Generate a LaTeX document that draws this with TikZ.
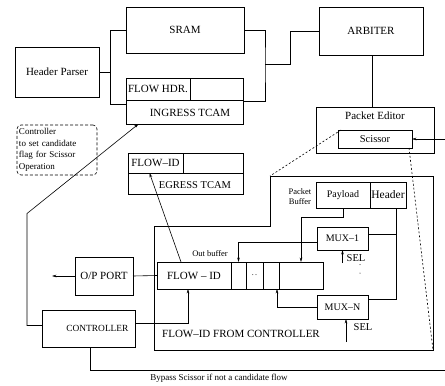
\documentclass[tikz,border=0pt]{standalone}
\usepackage{fontspec}
\setmainfont{Liberation Serif}
\usetikzlibrary{arrows.meta, positioning}

\begin{document}
\begin{tikzpicture}[x=1pt, y=-1pt, line width=0.6pt,
    box/.style={draw, line width=0.7pt, inner sep=0pt, outer sep=0pt, font=\fontsize{11}{13}\selectfont},
    lbl/.style={inner sep=0pt, font=\fontsize{11}{13}\selectfont},
    small/.style={inner sep=0pt, font=\fontsize{9}{11}\selectfont},
    arr/.style={-{Stealth[length=4.5pt, width=2.6pt]}},
    cut/.style={dash pattern=on 2pt off 2pt}]
    \useasboundingbox (0,0) rectangle (445,386);

    % Parser, memories and arbiter
    \node[box, minimum width=84pt, minimum height=50pt] (hp) at (57,72) {Header Parser};
    \node[box, minimum width=118pt, minimum height=46pt] (sram) at (185,30) {SRAM};
    \node[box, minimum width=117pt, minimum height=46pt] (ingress) at (184.5,101) {};
    \node[box, minimum width=64pt, minimum height=22pt] (flowhdr) at (158,89) {FLOW HDR.};
    \node[lbl] (inglabel) at (190,113) {INGRESS TCAM};
    \draw[line width=0.7pt] (flowhdr.south east) -- (ingress.east |- flowhdr.south);
    \node[box, minimum width=104pt, minimum height=48pt] (arbiter) at (371,31) {ARBITER};

    \draw (hp.east) -- ++(11,0) coordinate (hpj);
    \draw (hpj) |- (sram.west);
    \draw (hpj) |- ([yshift=-3pt]ingress.west);
    \coordinate (sj) at (265,64);
    \draw (sram.east) -| (sj) |- (ingress.east);
    \draw (sj) -- ++(25,0) |- (arbiter.west);

    % Packet editor
    \node[box, minimum width=118pt, minimum height=46pt] (editor) at (375,130) {};
    \node[lbl] (edlabel) at (375,116) {Packet Editor};
    \node[box, minimum width=74pt, minimum height=18pt, font=\fontsize{10.5}{12}\selectfont] (scissor) at (375,139) {Scissor};
    \draw (arbiter.south -| 372,0) -- (editor.north -| 372,0);
    \coordinate (rin) at (445,139);
    \draw[arr] (rin) -- (scissor.east);

    % Egress TCAM
    \node[box, minimum width=115pt, minimum height=41pt] (egress) at (185.5,173.5) {};
    \node[box, minimum width=55pt, minimum height=20pt] (flowid) at (155.5,163) {FLOW--ID};
    \node[lbl, font=\fontsize{10.5}{12}\selectfont] (egrlabel) at (195,185) {EGRESS TCAM};
    \draw[line width=0.7pt] (flowid.south east) -- (egress.east |- flowid.south);

    % Controller note
    \node[draw, dash pattern=on 3pt off 2pt, rounded corners=4pt, minimum width=80pt, minimum height=50pt,
        text width=76pt, align=left, inner sep=2pt, font=\fontsize{9}{11.6}\selectfont] (note) at (57,150)
        {Controller\\to set candidate\\flag for Scissor\\Operation};

    % Scissor block
    \coordinate (pbtl) at (270,176);
    \coordinate (pbbr) at (433,350);
    \draw[line width=0.7pt] (154,226) -- (270,226) -- (pbtl) -- (433,176) -- (pbbr) -- (154,350) -- cycle;
    \draw[cut] ([xshift=3pt]scissor.north west) -- (pbtl);
    \draw[cut] ([xshift=-3pt]scissor.south east) -- (pbbr);

    \node[small, align=center, font=\fontsize{8.5}{10}\selectfont] (pblabel) at (300,197) {Packet\\Buffer};
    \node[box, minimum width=54pt, minimum height=26pt, font=\fontsize{10}{12}\selectfont] (payload) at (343,195) {Payload};
    \node[box, minimum width=36pt, minimum height=26pt, font=\fontsize{11.5}{13}\selectfont] (header) at (388,195) {Header};

    \node[box, minimum width=51pt, minimum height=23pt, font=\fontsize{10}{12}\selectfont] (mux1) at (342.5,238.5) {MUX--1};
    \node[box, minimum width=51pt, minimum height=24pt, font=\fontsize{10}{12}\selectfont] (muxn) at (342.5,307) {MUX--N};

    % Out buffer
    \node[small, font=\fontsize{8.5}{10}\selectfont] (oblabel) at (210,254) {Out buffer};
    \node[box, minimum width=74pt, minimum height=27pt] (flowbuf) at (194,275.5) {FLOW -- ID};
    \node[box, minimum width=15pt, minimum height=27pt, right=0pt of flowbuf] (c1) {};
    \node[box, minimum width=17pt, minimum height=27pt, right=0pt of c1, font=\fontsize{8}{10}\selectfont] (c2) {.\,.};
    \node[box, minimum width=16pt, minimum height=27pt, right=0pt of c2] (c3) {};
    \node[box, minimum width=44pt, minimum height=27pt, right=0pt of c3] (c4) {};

    \draw[arr] (payload.south) -- ++(0,9) -| (c4.north);
    \coordinate (hdrdrop) at ([xshift=8pt]header.south);
    \draw (hdrdrop) |- ([yshift=8pt]muxn.east);
    \coordinate (m1in) at ([yshift=4pt]mux1.east);
    \draw (m1in) -- (hdrdrop |- m1in);
    \draw[arr] ([yshift=-4pt]mux1.west) -| (c1.north);
    \draw[arr] (muxn.west) -| ([xshift=6pt]c3.south);

    % SEL inputs
    \coordinate (sel1) at ([yshift=-13pt]mux1.south);
    \draw[arr] (sel1) -- (mux1.south);
    \node[lbl, font=\fontsize{10.5}{12}\selectfont] (sel1l) at (356,258) {SEL};
    \fill (360,264.5) circle (0.5pt);
    \fill (360,273) circle (0.5pt);
    \coordinate (seln) at ([xshift=3.5pt, yshift=-23pt]muxn.south);
    \draw[arr] (seln) -- ([xshift=3.5pt]muxn.south);
    \node[lbl, font=\fontsize{10.5}{12}\selectfont] (selnl) at (363,327) {SEL};

    \node[lbl] (fromctrl) at (241,334) {FLOW--ID FROM CONTROLLER};

    % Output port and controller
    \node[box, minimum width=58pt, minimum height=38pt] (oport) at (104,276) {O/P PORT};
    \draw (oport.east) -- (flowbuf.west);
    \coordinate (opout) at (52,276);
    \draw[arr] (oport.west) -- (opout);

    \node[box, minimum width=93pt, minimum height=37pt, text width=80pt, align=right, inner xsep=6.5pt,
        font=\fontsize{9.4}{11}\selectfont] (ctrl) at (88.5,328.5) {CONTROLLER};
    \draw[arr] ([yshift=5pt]ctrl.east) -| ([xshift=-6pt]flowbuf.south);
    \draw[arr] ([yshift=3pt]ctrl.west) -- ++(-15,0) -- ++(0,-112) -- ([xshift=-46pt]ingress.south);
    \draw[arr] ([xshift=-13pt]flowbuf.north) -- ([xshift=-6pt]flowid.south);

    % Bypass path
    \coordinate (byp) at (445,370);
    \draw ([xshift=1.5pt]ctrl.south) |- (byp);
    \node[small] (byplabel) at (219,378) {Bypass Scissor if not a candidate flow};
\end{tikzpicture}
\end{document}
